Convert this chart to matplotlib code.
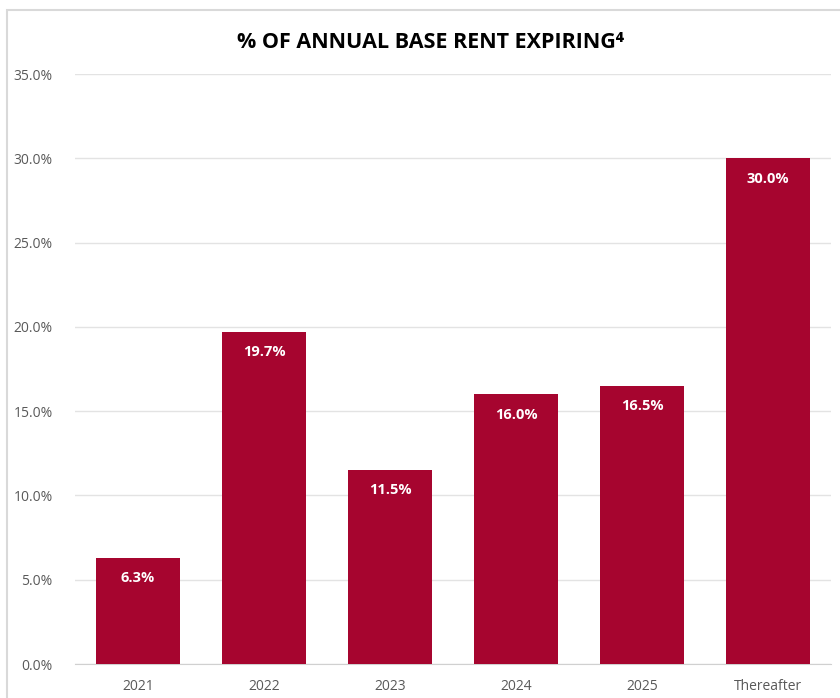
import matplotlib.pyplot as plt
from matplotlib.patches import Rectangle

categories = ["2021", "2022", "2023", "2024", "2025", "Thereafter"]
values = [6.3, 19.7, 11.5, 16.0, 16.5, 30.0]
labels = ["6.3%", "19.7%", "11.5%", "16.0%", "16.5%", "30.0%"]
yticks = [0, 5, 10, 15, 20, 25, 30, 35]

plt.rcParams['font.family'] = ['Open Sans', 'DejaVu Sans']

fig = plt.figure(figsize=(8.4, 6.98), dpi=100)
# light frame around the chart (left and top edges visible)
fig.patches.append(Rectangle((7 / 840, -0.1), 1.2, (698 - 10) / 698 + 0.1,
                             transform=fig.transFigure, fill=False,
                             edgecolor="#d9d9d9", linewidth=1.5))

ax = fig.add_axes([75 / 840, 34 / 698, 756 / 840, 590 / 698])
x = range(len(categories))
ax.bar(x, values, width=0.667, color="#a6052f", zorder=3)
for i, v in enumerate(values):
    ax.text(i, v - 1.2, labels[i], ha="center", va="center", color="white",
            fontsize=10.5, fontweight="bold", zorder=4)

ax.set_xlim(-0.5, len(categories) - 0.5)
ax.set_ylim(0, 35)
ax.set_yticks(yticks)
ax.set_yticklabels([f"{t:.1f}%" for t in yticks])
ax.set_xticks(list(x))
ax.set_xticklabels(categories)
ax.tick_params(axis="both", length=0, colors="#595959", labelsize=10)
ax.tick_params(axis="y", pad=16)
ax.tick_params(axis="x", pad=11)
ax.grid(axis="y", color="#e3e3e3", linewidth=1, zorder=0)
for s in ["top", "right", "left"]:
    ax.spines[s].set_visible(False)
ax.spines["bottom"].set_color("#d0d0d0")

fig.text(0.512, 1 - 42 / 698, "% OF ANNUAL BASE RENT EXPIRING⁴", ha="center",
         va="center", fontsize=15.5, fontweight="bold", color="black")

fig.savefig("out.png", dpi=100)
